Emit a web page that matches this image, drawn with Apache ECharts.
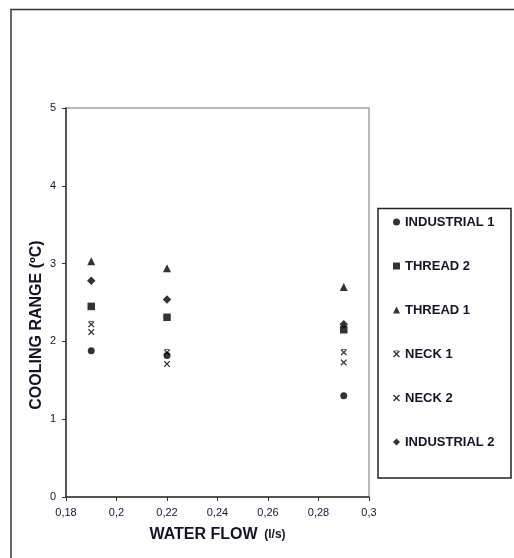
<!DOCTYPE html>
<html>
<head>
<meta charset="utf-8">
<script src="https://cdn.jsdelivr.net/npm/echarts@6/dist/echarts.min.js"></script>
<style>
html,body{margin:0;padding:0;background:#fff;}
#chart{width:514px;height:558px;}
</style>
</head>
<body>
<div id="chart"></div>
<script>
// Data
const waterFlow = [0.19, 0.22, 0.29];
const seriesNames = ['INDUSTRIAL 1', 'THREAD 2', 'THREAD 1', 'NECK 1', 'NECK 2', 'INDUSTRIAL 2'];
const industrial1 = [1.88, 1.82, 1.30];
const thread2 = [2.45, 2.31, 2.15];
const thread1 = [3.03, 2.94, 2.70];
const neck1 = [2.22, 1.86, 1.86];
const neck2 = [2.12, 1.71, 1.73];
const industrial2 = [2.78, 2.54, 2.22];
const xTitle = 'WATER FLOW';
const xUnit = '(l/s)';
const yTitle = 'COOLING RANGE (ºC)';

const FONT = '"Liberation Sans", Arial, sans-serif';
const xPath = 'path://M0,1.4L1.4,0L5,3.6L8.6,0L10,1.4L6.4,5L10,8.6L8.6,10L5,6.4L1.4,10L0,8.6L3.6,5Z';
const starPath = 'path://M0,1.6L1.4,0.2L5,3.8L8.6,0.2L10,1.6L6.4,5.2L10,8.8L8.6,10.2L5,6.6L1.4,10.2L0,8.8L3.6,5.2Z M2,0L8,0L8,1L2,1Z';

const seriesValues = [industrial1, thread2, thread1, neck1, neck2, industrial2];
const symbols = ['circle', 'rect', 'triangle', starPath, xPath, 'diamond'];
const sizes = [7, 7.5, 8, 6.5, 6.5, 8.5];

function pairs(vals) { return waterFlow.map((x, i) => [x, vals[i]]); }

const chart = echarts.init(document.getElementById('chart'), null, {renderer: 'canvas'});
chart.setOption({
  backgroundColor: '#ffffff',
  animation: false,
  grid: {
    left: 66, right: 145, top: 108, bottom: 61,
    show: true, borderColor: '#a3a3a3', borderWidth: 1.5, backgroundColor: '#fff'
  },
  legend: {
    orient: 'vertical',
    left: 388, top: 209,
    itemWidth: 7, itemHeight: 7, itemGap: 28,
    data: seriesNames,
    textStyle: {fontFamily: FONT, fontSize: 13, fontWeight: 'bold', color: '#141428', lineHeight: 16}
  },
  xAxis: {
    type: 'value', min: 0.18, max: 0.3, interval: 0.02,
    axisLine: {show: true, lineStyle: {color: '#333', width: 1.5}},
    axisTick: {show: true, inside: false, length: 4, lineStyle: {color: '#333'}},
    splitLine: {show: false},
    axisLabel: {
      margin: 10, fontFamily: FONT, fontSize: 11, color: '#14143a',
      formatter: v => String(Math.round(v * 100) / 100).replace('.', ',')
    },
    name: '{a|' + xTitle + '}  {b|' + xUnit + '}',
    nameLocation: 'middle', nameGap: 30,
    nameTextStyle: {
      rich: {
        a: {fontFamily: FONT, fontSize: 16, fontWeight: 'bold', color: '#141428'},
        b: {fontFamily: FONT, fontSize: 12, fontWeight: 'bold', color: '#141428'}
      }
    }
  },
  yAxis: {
    type: 'value', min: 0, max: 5, interval: 1,
    axisLine: {show: true, lineStyle: {color: '#333', width: 1.5}},
    axisTick: {show: true, inside: false, length: 4, lineStyle: {color: '#333'}},
    splitLine: {show: false},
    axisLabel: {margin: 10, fontFamily: FONT, fontSize: 11, color: '#14143a'}
  },
  graphic: [
    {type: 'rect', silent: true, shape: {x: 11, y: 9.5, width: 530, height: 570},
     style: {fill: 'none', stroke: '#333', lineWidth: 1.5}, z: -1},
    {type: 'rect', silent: true, shape: {x: 378, y: 208.5, width: 133, height: 269.5},
     style: {fill: 'none', stroke: '#222', lineWidth: 1.5}},
    {type: 'text', silent: true, x: 37, y: 325, rotation: Math.PI / 2,
     style: {text: yTitle, fontFamily: FONT, fontSize: 16, fontWeight: 'bold', fill: '#141428',
             textAlign: 'center', textVerticalAlign: 'middle'}}
  ],
  series: seriesNames.map((name, i) => ({
    name: name,
    type: 'scatter',
    symbol: symbols[i],
    symbolSize: sizes[i],
    itemStyle: {color: '#000'},
    data: pairs(seriesValues[i])
  }))
});
</script>
</body>
</html>
